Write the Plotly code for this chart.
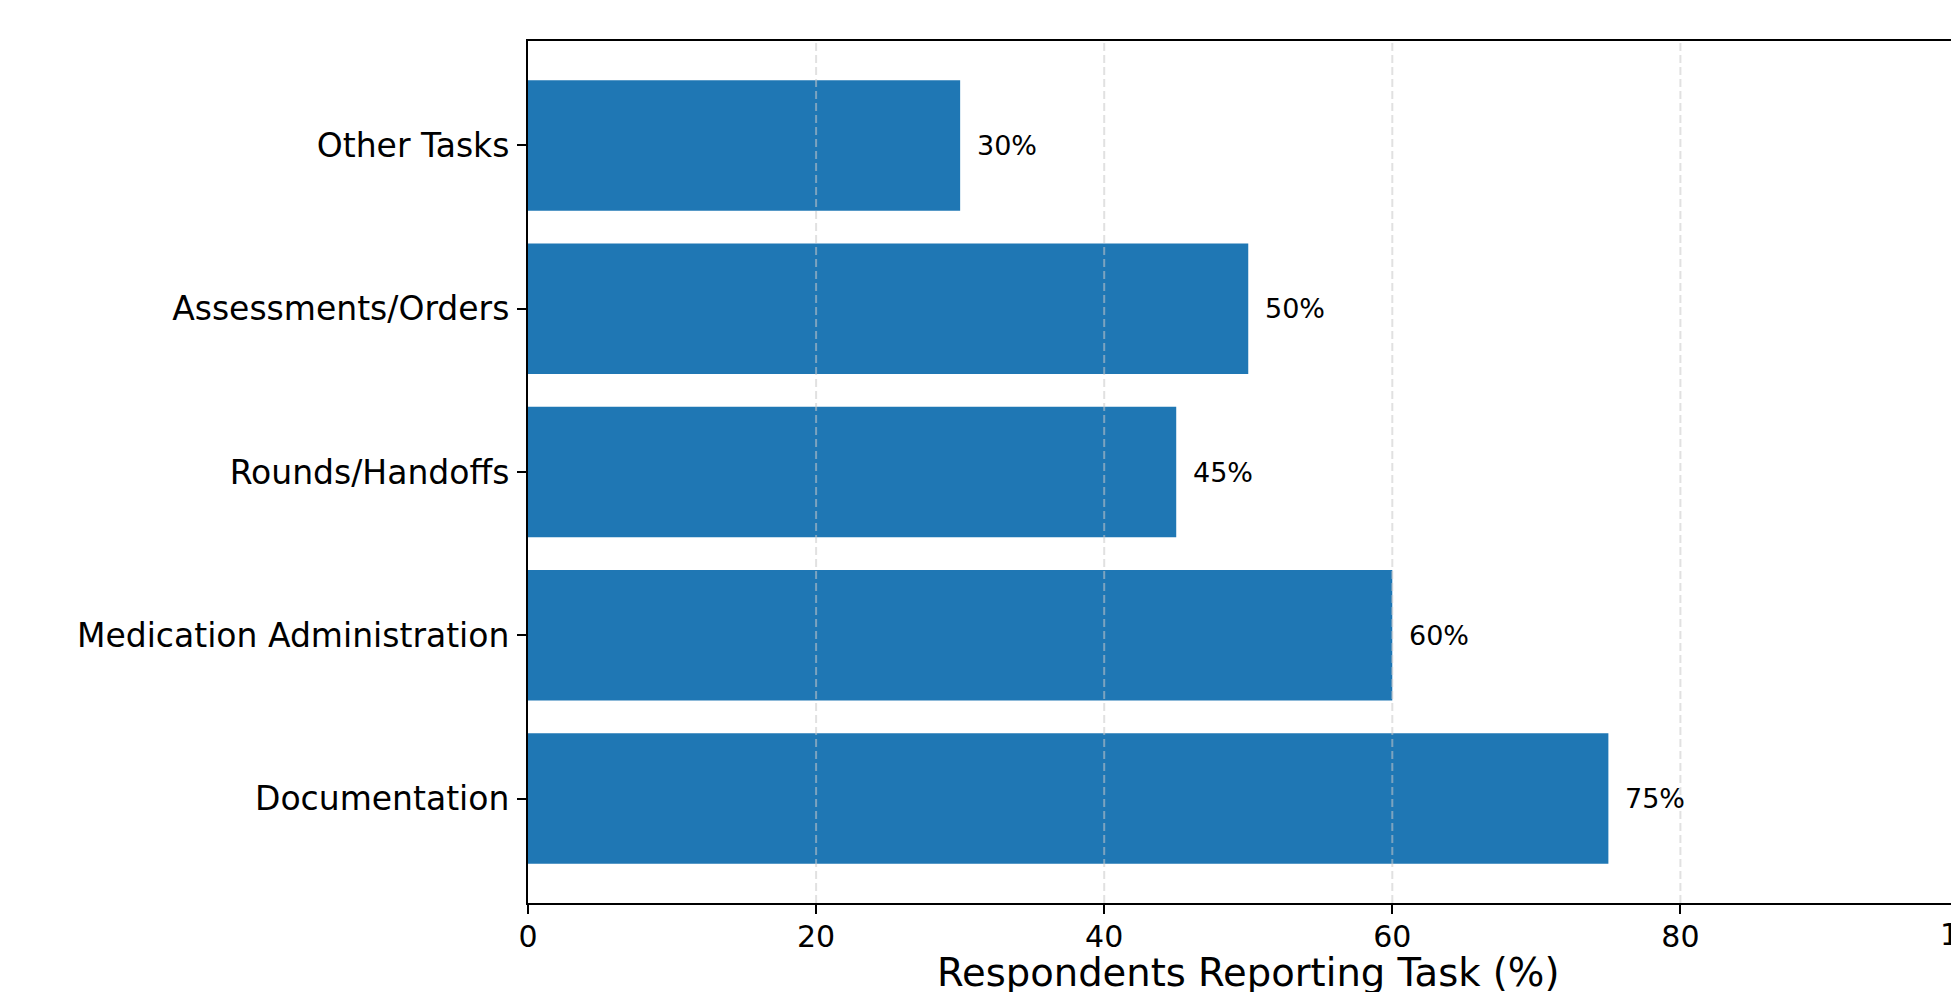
import plotly.graph_objects as go

categories = ["Documentation", "Medication Administration", "Rounds/Handoffs",
              "Assessments/Orders", "Other Tasks"]
values = [75, 60, 45, 50, 30]
x_ticks = [0, 20, 40, 60, 80, 100]
x_title = "Respondents Reporting Task (%)"

# page body adds an 8px offset, so the figure is 8px smaller than the window
W, H = 1951, 984
ML, MT, MB = 520, 33, 89
x_max = 99.34  # visible part of the 0-100 axis
y_range = [-0.64, len(categories) - 1 + 0.64]

FONT = "DejaVu Sans"
fig = go.Figure()
fig.add_trace(go.Bar(
    y=categories, x=values, orientation="h", width=0.8,
    marker=dict(color="#1f77b4", line=dict(width=0)),
    hoverinfo="skip",
))

# dashed grid drawn over the bars
for t in x_ticks[1:-1]:
    fig.add_shape(type="line", xref="x", yref="paper", x0=t, x1=t, y0=0, y1=1,
                  line=dict(color="rgba(200,200,200,0.55)", width=2, dash="8px,4px"),
                  layer="above")

# value labels
for c, v in zip(categories, values):
    fig.add_annotation(x=v + 1, y=c, xref="x", yref="y", text=f"{v}%",
                       showarrow=False, xanchor="left", yanchor="middle",
                       font=dict(family=FONT, size=27, color="black"))

# partially visible last tick label
fig.add_annotation(x=x_ticks[-1] / x_max, y=0, xref="paper", yref="paper",
                   text=str(x_ticks[-1]), showarrow=False, xanchor="center",
                   yanchor="top", yshift=-12,
                   font=dict(family=FONT, size=30, color="black"))

# x axis title
fig.add_annotation(x=50, y=0, xref="x", yref="paper", text=x_title,
                   showarrow=False, xanchor="center", yanchor="middle",
                   yshift=-69, font=dict(family=FONT, size=38.5, color="black"))

fig.update_layout(
    width=W, height=H,
    margin=dict(l=ML, r=0, t=MT, b=MB, pad=0),
    paper_bgcolor="white", plot_bgcolor="white",
    showlegend=False, bargap=0.2,
    font=dict(family=FONT, color="black"),
)
fig.update_xaxes(
    range=[0, x_max], tickvals=x_ticks[:-1], showgrid=False, zeroline=False,
    showline=True, linecolor="black", linewidth=2, mirror=True,
    ticks="outside", ticklen=9, tickwidth=2, tickcolor="black",
    ticklabelstandoff=-3,
    tickfont=dict(family=FONT, size=30, color="black"),
)
fig.update_yaxes(
    range=y_range, type="category", showgrid=False, zeroline=False,
    showline=True, linecolor="black", linewidth=2, mirror=False,
    ticks="outside", ticklen=9, tickwidth=2, tickcolor="black",
    ticklabelstandoff=1,
    tickfont=dict(family=FONT, size=33, color="black"),
)

fig.write_html("out.html")
